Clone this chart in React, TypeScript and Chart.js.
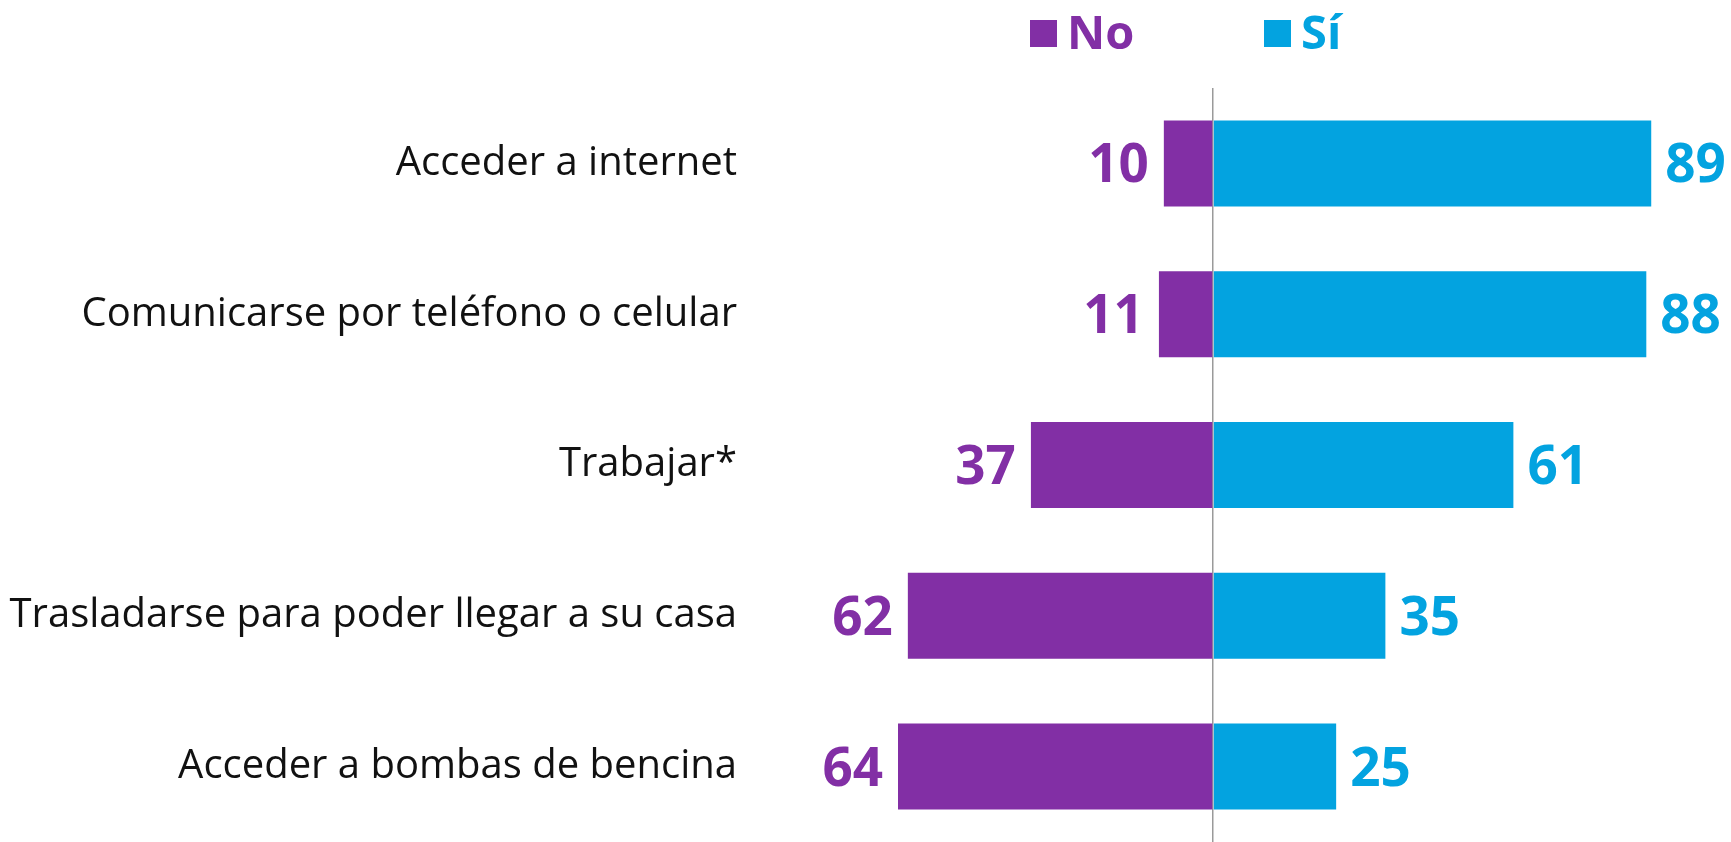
import React, { useEffect, useRef } from "react";
import { Chart, registerables } from "chart.js";

Chart.register(...registerables);

const categories = [
  "Acceder a internet",
  "Comunicarse por teléfono o celular",
  "Trabajar*",
  "Trasladarse para poder llegar a su casa",
  "Acceder a bombas de bencina",
];
const noValues = [10, 11, 37, 62, 64];
const siValues = [89, 88, 61, 35, 25];
const seriesLabels = ["No", "Sí"];

const PURPLE = "#822FA5";
const BLUE = "#03A3E0";

const valueLabelPlugin = {
  id: "valueLabels",
  afterDatasetsDraw(chart: any) {
    const ctx = chart.ctx;
    ctx.save();
    ctx.font = "bold 53px 'Open Sans'";
    ctx.textBaseline = "alphabetic";
    chart.data.datasets.forEach((ds: any, di: number) => {
      const meta = chart.getDatasetMeta(di);
      meta.data.forEach((bar: any, i: number) => {
        const v = Math.abs(ds.data[i]);
        ctx.fillStyle = ds.backgroundColor;
        const y = bar.y + 19;
        if (ds.data[i] < 0) {
          ctx.textAlign = "right";
          ctx.fillText(String(v), bar.x - 15, y);
        } else {
          ctx.textAlign = "left";
          ctx.fillText(String(v), bar.x + 14, y);
        }
      });
    });
    ctx.restore();
  },
};

const legendPlugin = {
  id: "customLegend",
  afterDraw(chart: any) {
    const ctx = chart.ctx;
    ctx.save();
    ctx.font = "bold 47px 'Open Sans'";
    ctx.textBaseline = "alphabetic";
    ctx.textAlign = "left";
    const items = [
      { boxX: 1030, textX: 1067 },
      { boxX: 1264, textX: 1301 },
    ];
    chart.data.datasets.forEach((ds: any, di: number) => {
      const it = items[di];
      ctx.fillStyle = ds.backgroundColor;
      ctx.fillRect(it.boxX, 20, 27, 27);
      ctx.fillText(ds.label, it.textX, 49);
    });
    ctx.restore();
  },
};

export default function App() {
  const ref = useRef<HTMLCanvasElement | null>(null);
  useEffect(() => {
    if (!ref.current) return;
    const chart = new Chart(ref.current, {
      type: "bar",
      data: {
        labels: categories,
        datasets: [
          {
            label: seriesLabels[0],
            data: noValues.map((v) => -v),
            backgroundColor: PURPLE,
            barPercentage: 0.57,
            categoryPercentage: 1,
          },
          {
            label: seriesLabels[1],
            data: siValues,
            backgroundColor: BLUE,
            barPercentage: 0.57,
            categoryPercentage: 1,
          },
        ],
      },
      options: {
        indexAxis: "y",
        responsive: false,
        animation: false,
        devicePixelRatio: 1,
        layout: { padding: { top: 88, right: 1, bottom: 0, left: 0 } },
        plugins: {
          legend: { display: false },
          tooltip: { enabled: false },
        },
        scales: {
          x: {
            stacked: true,
            min: -90,
            max: 105,
            ticks: { display: false, stepSize: 5 },
            border: { display: false },
            grid: {
              drawTicks: false,
              lineWidth: 1.5,
              color: (c: any) => (c.tick && c.tick.value === 0 ? "#9a9a9a" : "rgba(0,0,0,0)"),
            },
            afterFit: (s: any) => {
              s.height = 0;
              s.paddingLeft = 0;
              s.paddingRight = 0;
            },
          },
          y: {
            stacked: true,
            grid: { display: false },
            border: { display: false },
            ticks: {
              color: "#111111",
              padding: 25,
              font: { family: "'Open Sans'", size: 40, weight: "normal" },
            },
            afterFit: (s: any) => {
              s.width = 770;
              s.paddingTop = 0;
              s.paddingBottom = 0;
            },
          },
        },
      },
      plugins: [valueLabelPlugin, legendPlugin],
    });
    return () => chart.destroy();
  }, []);
  return (
    <div style={{ position: "fixed", left: 0, top: 0, width: 1731, height: 842, background: "#fff" }}>
      <canvas ref={ref} width={1731} height={842} />
    </div>
  );
}
